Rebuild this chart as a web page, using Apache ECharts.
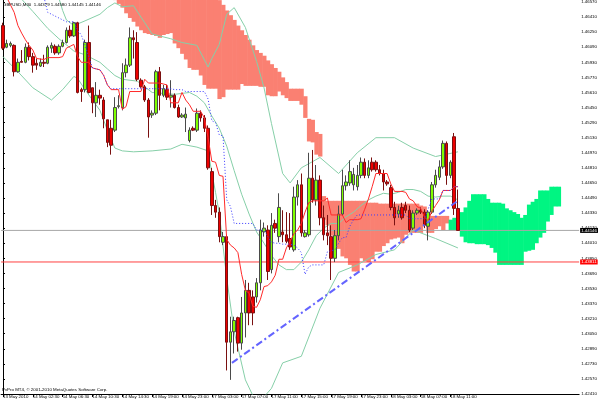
<!DOCTYPE html>
<html><head><meta charset="utf-8">
<script src="https://cdn.jsdelivr.net/npm/echarts@6/dist/echarts.min.js"></script>
<style>html,body{margin:0;padding:0;background:#fff}#c{width:600px;height:404px}</style>
</head><body><div id="c"></div>
<script>
// ---- data ----
const timeLabels = ["13 May 2010","14 May 02:30","14 May 06:30","14 May 10:30","14 May 14:30","14 May 19:00","14 May 23:00","17 May 03:00","17 May 07:00","17 May 11:00","17 May 15:00","17 May 19:00","17 May 23:00","18 May 03:00","18 May 07:00","18 May 11:00"];
const priceTicks = [1.4241,1.4257,1.4273,1.4289,1.4305,1.4321,1.4337,1.4353,1.4369,1.4385,1.4401,1.4417,1.4433,1.4449,1.4465,1.4481,1.4497,1.4513,1.4529,1.4545,1.4561,1.4577,1.4593,1.4609,1.4625,1.4641,1.4657];
const open = [1.4632,1.4609,1.4611,1.4611,1.4583,1.4594,1.4593,1.4609,1.4599,1.4592,
1.4589,1.4593,1.4592,1.4608,1.4610,1.4603,1.4610,1.4614,1.4627,1.4621,
1.4635,1.4564,1.4564,1.4614,1.4566,1.4550,1.4558,1.4553,1.4532,1.4523,
1.4521,1.4546,1.4545,1.4582,1.4590,1.4619,1.4614,1.4574,1.4567,1.4553,
1.4537,1.4539,1.4583,1.4558,1.4564,1.4556,1.4558,1.4545,1.4535,1.4534,
1.4510,1.4523,1.4521,1.4539,1.4534,1.4523,1.4477,1.4441,1.4434,1.4402,
1.4408,1.4296,1.4307,1.4322,1.4295,1.4327,1.4351,1.4344,1.4344,1.4359,
1.4413,1.4415,1.4373,1.4422,1.4408,1.4413,1.4410,1.4406,1.4394,1.4450,
1.4463,1.4408,1.4410,1.4470,1.4447,1.4468,1.4428,1.4412,1.4408,1.4385,
1.4409,1.4432,1.4462,1.4465,1.4463,1.4461,1.4473,1.4487,1.4473,1.4487,
1.4487,1.4479,1.4475,1.4466,1.4460,1.4439,1.4432,1.4439,1.4441,1.4436,
1.4417,1.4433,1.4436,1.4434,1.4419,1.4434,1.4463,1.4471,1.4482,1.4507,
1.4473,1.4514,1.44379];
const close = [1.4608,1.4613,1.4613,1.4583,1.4593,1.4593,1.4609,1.4599,1.4590,1.4590,
1.4593,1.4592,1.4609,1.4611,1.4603,1.4610,1.4614,1.4627,1.4621,1.4635,
1.4561,1.4562,1.4614,1.4561,1.4550,1.4558,1.4555,1.4533,1.4508,1.4505,
1.4545,1.4547,1.4582,1.4590,1.4619,1.4617,1.4575,1.4567,1.4553,1.4535,
1.4539,1.4583,1.4558,1.4565,1.4556,1.4558,1.4545,1.4535,1.4537,1.4538,
1.4521,1.4521,1.4539,1.4534,1.4523,1.4481,1.4441,1.4434,1.4408,1.4408,
1.4296,1.4307,1.4319,1.4295,1.4327,1.4351,1.4327,1.4327,1.4359,1.4415,
1.4417,1.4371,1.4420,1.4417,1.4439,1.4410,1.4403,1.4397,1.4450,1.4463,
1.4412,1.4412,1.4470,1.4447,1.4468,1.4428,1.4410,1.4409,1.4385,1.4409,
1.4432,1.4462,1.4466,1.4477,1.4474,1.4473,1.4487,1.4473,1.4481,1.4479,
1.4479,1.4475,1.4466,1.4464,1.4439,1.4428,1.4436,1.4428,1.4436,1.4415,
1.4433,1.4436,1.4434,1.4420,1.4434,1.4463,1.4473,1.4482,1.4507,1.4473,
1.4487,1.4438,1.44146];
const low = [1.4606,1.4608,1.4609,1.4578,1.4582,1.4593,1.4592,1.4595,1.4582,1.4585,
1.4588,1.4588,1.4591,1.4603,1.4601,1.4601,1.4609,1.4613,1.4619,1.4620,
1.4560,1.4551,1.4561,1.4560,1.4539,1.4535,1.4548,1.4523,1.4503,1.4495,
1.4519,1.4544,1.4542,1.4577,1.4588,1.4597,1.4573,1.4566,1.4551,1.4513,
1.4534,1.4537,1.4542,1.4556,1.4553,1.4545,1.4544,1.4534,1.4534,1.4519,
1.4508,1.4520,1.4519,1.4530,1.4519,1.4479,1.4431,1.4428,1.4402,1.4399,
1.4266,1.4256,1.4284,1.4286,1.4288,1.4301,1.4314,1.4314,1.4338,1.4351,
1.4408,1.4362,1.4369,1.4412,1.4402,1.4402,1.4401,1.4394,1.4392,1.4441,
1.4408,1.4407,1.4408,1.4444,1.4441,1.4420,1.4404,1.4399,1.4362,1.4381,
1.4404,1.4430,1.4457,1.4462,1.4457,1.4457,1.4470,1.4470,1.4470,1.4477,
1.4477,1.4473,1.4457,1.4462,1.4436,1.4420,1.4428,1.4426,1.4433,1.4413,
1.4415,1.4431,1.4432,1.4417,1.4404,1.4432,1.4460,1.4468,1.4480,1.4463,
1.4470,1.4431,1.44145];
const high = [1.4635,1.4617,1.4615,1.4612,1.4597,1.4606,1.4613,1.4614,1.4603,1.4597,
1.4597,1.4601,1.4611,1.4614,1.4612,1.4612,1.4617,1.4630,1.4632,1.4636,
1.4636,1.4566,1.4617,1.4632,1.4566,1.4572,1.4564,1.4556,1.4532,1.4532,
1.4556,1.4558,1.4592,1.4597,1.4630,1.4627,1.4625,1.4576,1.4569,1.4555,
1.4542,1.4585,1.4588,1.4569,1.4569,1.4574,1.4560,1.4548,1.4539,1.4545,
1.4524,1.4525,1.4544,1.4542,1.4537,1.4526,1.4481,1.4447,1.4439,1.4413,
1.4410,1.4323,1.4323,1.4323,1.4344,1.4362,1.4359,1.4351,1.4364,1.4426,
1.4423,1.4420,1.4433,1.4426,1.4454,1.4436,1.4434,1.4433,1.4461,1.4468,
1.4475,1.4415,1.4497,1.4500,1.4484,1.4473,1.4441,1.4431,1.4420,1.4415,
1.4441,1.4479,1.4473,1.4489,1.4481,1.4484,1.4492,1.4491,1.4489,1.4492,
1.4489,1.4484,1.4479,1.4468,1.4463,1.4445,1.4441,1.4444,1.4445,1.4441,
1.4436,1.4438,1.4439,1.4437,1.4436,1.4466,1.4479,1.4489,1.4510,1.4509,
1.4489,1.4518,1.44580];
// Ichimoku lines [bar, price]
const tenkan = [[0,1.4672],[1,1.4662],[2,1.4654],[3,1.4646],[4,1.4632],[5,1.4624],[6,1.4617],[7,1.4611],[8,1.4606],[9,1.4597],[11,1.4596],[12,1.4598],[15,1.4598],[16,1.4599],[17,1.4608],[18,1.4610],[19,1.4612],[20,1.4599],[21,1.4593],[23,1.4593],[24,1.4587],[26,1.4585],[27,1.4579],[28,1.4569],[29,1.4564],[31,1.4564],[32,1.4543],[33,1.4546],[34,1.4562],[37,1.4562],[38,1.4575],[39,1.4571],[42,1.4571],[43,1.4570],[44,1.4569],[45,1.4550],[47,1.4550],[48,1.4561],[49,1.4553],[50,1.4548],[51,1.4541],[53,1.4541],[54,1.4534],[55,1.4513],[56,1.4488],[57,1.4487],[58,1.4473],[59,1.4472],[60,1.4405],[61,1.4399],[62,1.4396],[63,1.4391],[64,1.4368],[65,1.4351],[66,1.4348],[67,1.4334],[68,1.4333],[69,1.4341],[70,1.4355],[71,1.4356],[72,1.4360],[73,1.4367],[74,1.4384],[75,1.4384],[76,1.4396],[77,1.4403],[78,1.4411],[79,1.4415],[80,1.4422],[81,1.4434],[82,1.4444],[83,1.4446],[86,1.4446],[87,1.4449],[88,1.4431],[91,1.4431],[92,1.4423],[93,1.4426],[95,1.4426],[96,1.4427],[97,1.4437],[98,1.4448],[99,1.4461],[100,1.4475],[103,1.4475],[104,1.4464],[105,1.4456],[107,1.4456],[108,1.4455],[109,1.4448],[110,1.4446],[111,1.4440],[112,1.4438],[113,1.4429],[114,1.4425],[115,1.4435],[116,1.4441],[117,1.4447],[118,1.4457],[120,1.4457],[121,1.4461],[122,1.4461]];
const kijun = [[11,1.4662],[12,1.4646],[15,1.4640],[16,1.4638],[17,1.4636],[19,1.4636],[20,1.4627],[21,1.4622],[22,1.4611],[23,1.4599],[24,1.4587],[26,1.4585],[27,1.4579],[28,1.4569],[29,1.4565],[45,1.4565],[46,1.4564],[48,1.4564],[49,1.4562],[54,1.4562],[55,1.4554],[56,1.4531],[57,1.4529],[58,1.4516],[59,1.4515],[60,1.4447],[61,1.4440],[62,1.4422],[67,1.4422],[68,1.4415],[70,1.4415],[71,1.4408],[72,1.4402],[73,1.4401],[74,1.4401],[75,1.4400],[77,1.4400],[78,1.4399],[79,1.4396],[80,1.4391],[81,1.4368],[82,1.4376],[83,1.4378],[86,1.4378],[87,1.4392],[88,1.4393],[89,1.4394],[90,1.4401],[91,1.4407],[92,1.4407],[93,1.4419],[94,1.4426],[95,1.4431],[108,1.4431],[109,1.4427],[113,1.4427],[114,1.4437],[115,1.4448],[117,1.4448],[118,1.4457],[120,1.4457],[121,1.4461],[122,1.4461]];
const cloudStart = 30;
const spanA = [1.4659,1.4655,1.4651,1.4645,1.4640,1.4636,1.4631,1.4627,1.4624,1.4623,
1.4622,1.4621,1.4619,1.4622,1.4623,1.4624,1.4613,1.4608,1.4602,1.4596,
1.4587,1.4585,1.4585,1.4579,1.4569,1.4565,1.4565,1.4565,1.4554,1.4556,
1.4564,1.4564,1.4564,1.4564,1.4570,1.4568,1.4568,1.4568,1.4568,1.4567,
1.4567,1.4558,1.4557,1.4557,1.4562,1.4558,1.4555,1.4552,1.4552,1.4552,
1.4548,1.4534,1.4509,1.4508,1.4495,1.4493,1.4426,1.4420,1.4409,1.4406,
1.4395,1.4387,1.4385,1.4378,1.4371,1.4371,1.4385,1.4382,1.4381,1.4384,
1.4392,1.4392,1.4398,1.4401,1.4405,1.4406,1.4407,1.4401,1.4410,1.4412,
1.4412,1.4412,1.4412,1.4421,1.4412,1.4412,1.4416,1.4419,1.4415,1.4422,
1.4426,1.4428,1.4429,1.4434,1.4439,1.4446,1.4453,1.4453,1.4453,1.4453,
1.4448,1.4444,1.4444,1.4444,1.4443,1.4438,1.4436,1.4434,1.4432,1.4428,
1.4431,1.4442,1.4445,1.4448,1.4457,1.4457,1.4457,1.4461,1.4461,1.4461];
const spanB = [1.4720,1.4720,1.4720,1.4720,1.4720,1.4720,1.4720,1.4720,1.4720,1.4720,
1.4720,1.4720,1.4720,1.4720,1.4720,1.4720,1.4720,1.4720,1.4720,1.4720,
1.4720,1.4720,1.4720,1.4720,1.4720,1.4720,1.4720,1.4664,1.4659,1.4654,
1.4648,1.4643,1.4638,1.4632,1.4627,1.4622,1.4617,1.4611,1.4606,1.4603,
1.4600,1.4595,1.4591,1.4587,1.4583,1.4577,1.4572,1.4565,1.4565,1.4565,
1.4565,1.4557,1.4533,1.4532,1.4519,1.4517,1.4451,1.4446,1.4446,1.4446,
1.4446,1.4446,1.4446,1.4446,1.4446,1.4446,1.4446,1.4446,1.4444,1.4444,
1.4444,1.4443,1.4443,1.4443,1.4443,1.4443,1.4443,1.4443,1.4443,1.4443,
1.4443,1.4443,1.4441,1.4440,1.4430,1.4430,1.4430,1.4430,1.4430,1.4430,
1.4415,1.4415,1.4415,1.4408,1.4402,1.4401,1.4401,1.4400,1.4400,1.4400,
1.4399,1.4396,1.4391,1.4378,1.4378,1.4378,1.4378,1.4378,1.4378,1.4378,
1.4392,1.4393,1.4394,1.4401,1.4407,1.4412,1.4424,1.4431,1.4440,1.4440];
// Bollinger bands [bar, price]
const bbUpper = [[15,1.4661],[16,1.4648],[17,1.4638],[19,1.4632],[22,1.4637],[26,1.4644],[28,1.4651],[30,1.4656],[32,1.4652],[35,1.4653],[38,1.4635],[40,1.4623],[45,1.4618],[48,1.4614],[52,1.4611],[55,1.4588],[56,1.4597],[58,1.4612],[60,1.4644],[62,1.4651],[65,1.4630],[68,1.4594],[70,1.4566],[72,1.4528],[75,1.4475],[77,1.4465],[80,1.4481],[85,1.4492],[90,1.4475],[95,1.4497],[100,1.4513],[105,1.4513],[110,1.4502],[116,1.4493],[122,1.4498]];
const bbMiddle = [[5,1.4660],[8,1.4647],[12,1.4629],[15,1.4618],[19,1.4605],[22,1.4601],[26,1.4593],[28,1.4586],[30,1.4579],[32,1.4575],[36,1.4573],[40,1.4561],[46,1.4559],[50,1.4561],[52,1.4557],[54,1.4550],[56,1.4536],[58,1.4523],[60,1.4504],[62,1.4478],[64,1.4453],[66,1.4432],[68,1.4413],[70,1.4401],[72,1.4388],[74,1.4378],[76,1.4373],[78,1.4373],[80,1.4381],[82,1.4394],[84,1.4409],[86,1.4417],[88,1.4422],[90,1.4422],[92,1.4429],[94,1.4434],[96,1.4441],[98,1.4447],[100,1.4451],[102,1.4454],[104,1.4453],[106,1.4455],[108,1.4458],[110,1.4458],[112,1.4456],[114,1.4451],[116,1.4450],[118,1.4451],[120,1.4451],[122,1.4447]];
const bbLower = [[0,1.4599],[4,1.4583],[8,1.4566],[13,1.4553],[16,1.4564],[19,1.4578],[20,1.4576],[22,1.4564],[26,1.4542],[28,1.4521],[30,1.4502],[32,1.4499],[35,1.4498],[40,1.4499],[45,1.4501],[48,1.4506],[52,1.4503],[55,1.4499],[56,1.4476],[57,1.4455],[58,1.4433],[60,1.4364],[62,1.4307],[65,1.4256],[68,1.4231],[70,1.4238],[72,1.4247],[75,1.4274],[80,1.4281],[85,1.4332],[90,1.4370],[95,1.4378],[100,1.4389],[105,1.4394],[110,1.4415],[116,1.4406],[122,1.4396]];
const trendLine = [[61.4,1.4274],[121.6,1.4445]];
const bidPrice = 1.44146;
const levelPrice = 1.43811;
const titleText = "GBPUSD,M30  1.44379 1.44580 1.44145 1.44146";
const copyrightText = "PvPro MT4, \u00A9 2001-2010 MetaQuotes Software Corp.";

// ---- chart ----
const N = 155;
const showIdx = i => i % 8 === 0 && i / 8 < timeLabels.length;
const cats = Array.from({length: N}, (_, i) => showIdx(i) ? timeLabels[i / 8] : ' ');
const candles = open.map((o, i) => [o, close[i], low[i], high[i]]);
const cloudData = spanA.map((a, k) => [cloudStart + k, a, spanB[k]]);
const FONT = 'Liberation Sans';
const FS = 4.4;

function hLine(price, lineColor, boxColor) {
  return {type: 'line', xAxisIndex: 1, yAxisIndex: 0, z: 2, symbol: 'none', silent: true,
    data: [[-0.5, price], [N - 0.5, price]],
    lineStyle: {color: lineColor, width: 1},
    endLabel: {show: true, formatter: () => price.toFixed(5), color: '#fff', backgroundColor: boxColor,
      padding: [1, 1, 0, 1], distance: 1, fontSize: FS, fontFamily: FONT}};
}

const chart = echarts.init(document.getElementById('c'), null, {renderer: 'canvas'});
chart.setOption({
  animation: false,
  backgroundColor: '#ffffff',
  grid: {left: 0, right: 19, top: 0, bottom: 10, containLabel: false},
  xAxis: [
    {type: 'category', data: cats, boundaryGap: true,
     axisLine: {lineStyle: {color: '#000', width: 1}},
     axisTick: {show: true, length: 3, alignWithLabel: true, interval: (i) => showIdx(i), lineStyle: {color: '#000'}},
     axisLabel: {interval: (i) => showIdx(i), align: 'left', fontSize: FS, fontFamily: FONT, color: '#000', margin: 1},
     splitLine: {show: false}},
    {type: 'value', min: -0.5, max: N - 0.5, show: false}
  ],
  yAxis: [{type: 'value', position: 'right', min: 1.4241, max: 1.46591, scale: true,
    axisLine: {show: true, lineStyle: {color: '#000'}},
    axisTick: {show: true, length: 2, customValues: priceTicks, lineStyle: {color: '#000'}},
    axisLabel: {customValues: priceTicks, fontSize: FS, fontFamily: FONT, color: '#000', margin: 2,
      formatter: v => v.toFixed(5)},
    splitLine: {show: false}}],
  graphic: [
    {type: 'text', left: 3, top: 3, z: 100, style: {text: titleText, font: FS + 'px "Liberation Sans"', fill: '#000'}},
    {type: 'text', left: 2, top: 388, z: 100, style: {text: copyrightText, font: FS + 'px "Liberation Sans"', fill: '#000'}}
  ],
  series: [
    {type: 'custom', xAxisIndex: 1, yAxisIndex: 0, z: 1, clip: true, silent: true,
     renderItem: function (params, api) {
       const i = api.value(0), a = api.value(1), b = api.value(2);
       const p1 = api.coord([i - 0.5, Math.max(a, b)]);
       const p2 = api.coord([i + 0.5, Math.min(a, b)]);
       const cs = params.coordSys;
       const top = Math.max(p1[1], cs.y), bot = Math.min(p2[1], cs.y + cs.height);
       return {type: 'rect', shape: {x: p1[0], y: top, width: p2[0] - p1[0] + 0.6, height: Math.max(0, bot - top)},
               style: {fill: a >= b ? '#00f582' : '#fa8072'}};
     },
     encode: {x: 0, y: [1, 2]},
     data: cloudData},
    hLine(bidPrice, '#a8a8a8', '#000000'),
    hLine(levelPrice, '#ff4040', '#ff0000'),
    {type: 'line', xAxisIndex: 1, data: bbUpper, symbol: 'none', z: 3, lineStyle: {color: '#86cfa8', width: 1}},
    {type: 'line', xAxisIndex: 1, data: bbMiddle, symbol: 'none', z: 3, lineStyle: {color: '#86cfa8', width: 1}},
    {type: 'line', xAxisIndex: 1, data: bbLower, symbol: 'none', z: 3, lineStyle: {color: '#86cfa8', width: 1}},
    {type: 'candlestick', xAxisIndex: 0, z: 4, barWidth: 3, data: candles,
     itemStyle: {color: '#7fff00', color0: '#ee0000', borderColor: '#4a4a4a', borderColor0: '#7a1010', borderWidth: 1}},
    {type: 'line', xAxisIndex: 1, data: tenkan, symbol: 'none', z: 5, lineStyle: {color: '#ff2a2a', width: 1}},
    {type: 'line', xAxisIndex: 1, data: kijun, symbol: 'none', z: 5, lineStyle: {color: '#3a3aff', width: 1, type: [1, 2]}},
    {type: 'line', xAxisIndex: 1, data: trendLine, symbol: 'none', z: 6, lineStyle: {color: '#6464ff', width: 2, type: [7, 3, 2, 3]}}
  ]
});
</script></body></html>
